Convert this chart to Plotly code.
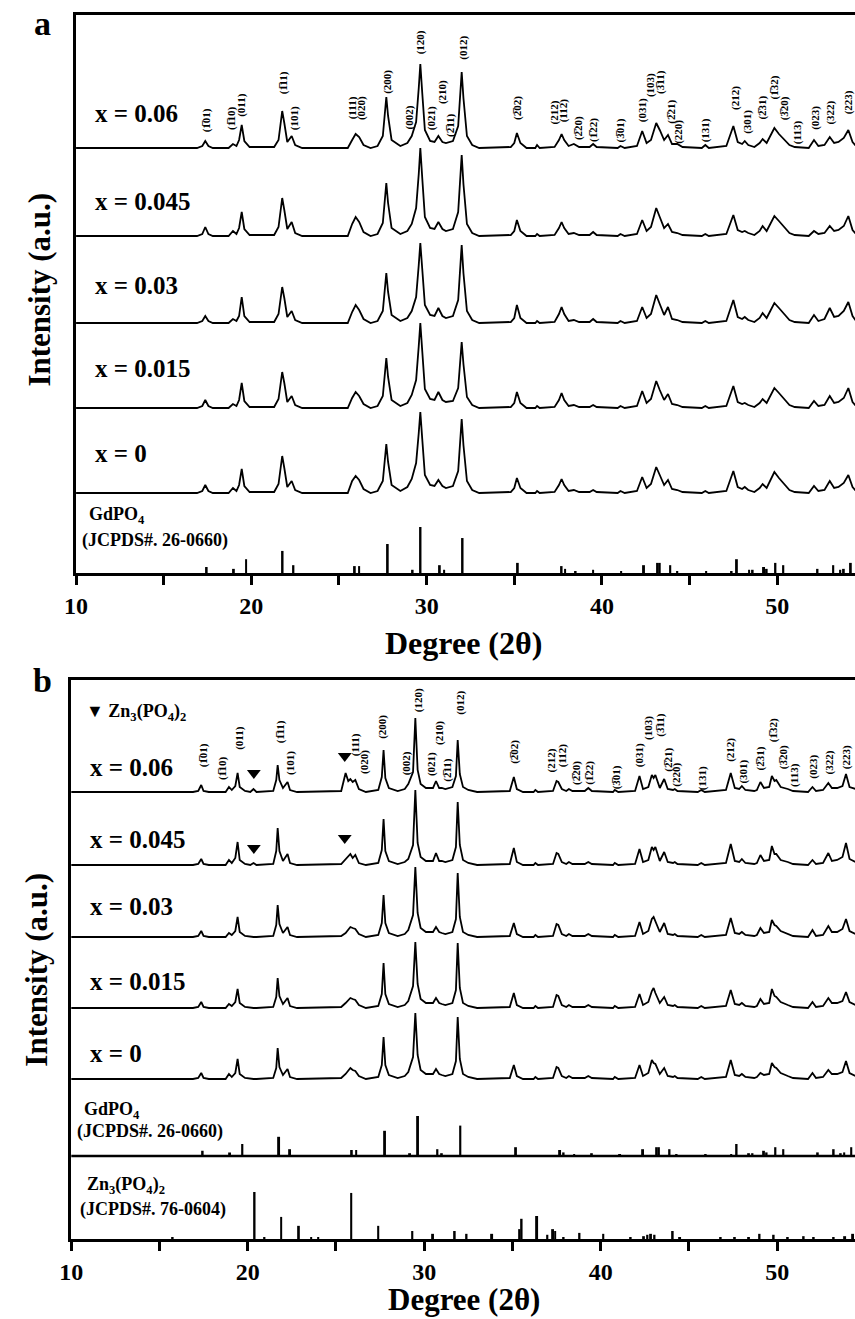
import plotly.graph_objects as go

W, H = 855, 1319
SERIF = "Liberation Serif"

# ---------------- panel a : GdPO4:Zn samples ----------------
A_ANG = [10.0, 16.9,
         17.2, 17.37, 17.55, 17.8,
         18.7, 18.95, 19.15, 19.3, 19.45, 19.6, 19.9,
         21.3, 21.55, 21.68, 21.76, 21.88, 22.05, 22.3, 22.5, 22.9,
         25.5, 25.75, 25.95, 26.15, 26.4, 26.8,
         27.2, 27.5, 27.62, 27.7, 27.8, 28.0, 28.5,
         28.9, 29.15, 29.4, 29.55, 29.64, 29.75, 29.9, 30.2, 30.45, 30.67, 30.9, 31.1,
         31.5, 31.8, 31.92, 32.0, 32.1, 32.3, 32.6, 33.0,
         34.8, 35.0, 35.15, 35.35, 35.7, 36.2, 36.3, 36.45,
         37.3, 37.55, 37.7, 37.85, 38.1, 38.4, 38.7, 39.3, 39.5, 39.7, 40.9, 41.06, 41.3,
         42.0, 42.3, 42.55, 42.8, 43.1, 43.3, 43.55, 43.77, 44.0, 44.3, 44.6,
         45.7, 45.9, 46.1, 47.1, 47.5, 47.75, 48.0, 48.15, 48.35, 48.7,
         49.0, 49.17, 49.4, 49.84, 50.1, 50.4, 50.7, 51.0,
         51.8, 52.1, 52.35, 52.7, 53.0, 53.25, 53.5, 53.8, 54.06, 54.3, 54.5]

A_006 = [0, 0,
         2, 7, 2, 0,
         0, 4, 2, 8, 23, 7, 1,
         1, 8, 30, 37, 25, 6, 12, 3, 0,
         0, 8, 14, 11, 3, 0,
         2, 12, 35, 51, 32, 8, 2,
         5, 12, 26, 60, 84, 55, 18, 7, 6, 12, 6, 5,
         7, 22, 55, 76, 50, 12, 3, 0,
         1, 5, 15, 5, 0, 0, 3, 0,
         1, 8, 14, 8, 2, 4, 1, 1, 4, 1, 0, 2, 0,
         2, 17, 5, 8, 25, 18, 8, 13, 4, 4, 1,
         0, 3, 0, 2, 22, 6, 4, 7, 3, 1,
         5, 9, 5, 20, 14, 8, 3, 1,
         0, 8, 2, 3, 11, 5, 6, 10, 18, 6, 2]

A_0045 = [0, 0,
          2, 9, 2, 0,
          0, 5, 2, 8, 24, 7, 1,
          1, 9, 31, 38, 26, 7, 14, 3, 0,
          0, 12, 19, 14, 4, 0,
          2, 13, 37, 53, 33, 8, 2,
          5, 12, 28, 62, 88, 58, 19, 8, 7, 14, 7, 5,
          7, 24, 58, 81, 52, 12, 3, 0,
          1, 5, 16, 5, 0, 0, 2, 0,
          1, 8, 14, 8, 2, 3, 1, 1, 4, 1, 0, 2, 0,
          2, 16, 5, 9, 28, 19, 8, 12, 4, 3, 1,
          0, 2, 0, 2, 21, 6, 4, 5, 3, 1,
          5, 10, 5, 20, 15, 9, 3, 1,
          0, 5, 2, 3, 10, 5, 6, 10, 20, 6, 2]

A_003 = [0, 0,
         2, 7, 2, 0,
         0, 4, 2, 7, 26, 7, 1,
         1, 9, 29, 36, 25, 6, 12, 3, 0,
         0, 11, 18, 13, 4, 0,
         2, 12, 35, 50, 31, 8, 2,
         5, 12, 26, 58, 80, 54, 18, 8, 7, 15, 7, 5,
         7, 23, 56, 78, 50, 12, 3, 0,
         1, 5, 18, 5, 0, 0, 2, 0,
         1, 9, 16, 9, 2, 3, 1, 1, 4, 1, 0, 2, 0,
         2, 16, 5, 9, 28, 19, 8, 16, 4, 3, 1,
         0, 2, 0, 2, 23, 6, 4, 6, 3, 1,
         5, 10, 5, 20, 15, 9, 3, 1,
         0, 8, 2, 4, 15, 6, 7, 12, 21, 7, 2]

A_0015 = [0, 0,
          2, 8, 2, 0,
          0, 4, 2, 8, 25, 7, 1,
          1, 9, 29, 36, 25, 6, 12, 3, 0,
          0, 10, 16, 12, 4, 0,
          2, 12, 35, 50, 31, 8, 2,
          5, 13, 28, 62, 85, 57, 19, 9, 8, 16, 8, 6,
          7, 20, 48, 66, 44, 11, 3, 0,
          1, 5, 16, 5, 0, 0, 2, 0,
          1, 8, 15, 8, 2, 3, 1, 1, 3, 1, 0, 2, 0,
          2, 17, 5, 9, 27, 18, 8, 14, 4, 3, 1,
          0, 2, 0, 2, 22, 6, 4, 5, 3, 1,
          5, 9, 5, 20, 15, 9, 3, 1,
          0, 7, 2, 3, 12, 5, 6, 10, 20, 6, 2]

A_000 = [0, 0,
         2, 8, 2, 0,
         0, 5, 2, 8, 24, 7, 1,
         1, 9, 30, 37, 25, 6, 12, 3, 0,
         0, 12, 17, 13, 4, 0,
         2, 12, 35, 49, 31, 8, 2,
         6, 14, 30, 60, 81, 54, 18, 8, 7, 13, 7, 5,
         7, 22, 54, 74, 48, 12, 3, 0,
         1, 5, 15, 5, 0, 0, 2, 0,
         1, 8, 14, 8, 2, 3, 1, 1, 3, 1, 0, 2, 0,
         2, 16, 5, 9, 26, 18, 8, 13, 4, 3, 1,
         0, 2, 0, 2, 22, 6, 4, 6, 3, 1,
         5, 9, 5, 21, 15, 9, 3, 1,
         0, 7, 2, 3, 12, 5, 6, 10, 18, 6, 2]

A_SAMPLES = ["x = 0.06", "x = 0.045", "x = 0.03", "x = 0.015", "x = 0"]

# ---------------- panel b ----------------
B_ANG = [10.0, 16.9,
         17.2, 17.37, 17.5, 17.8,
         18.75, 18.94, 19.1, 19.3, 19.43, 19.55, 19.85,
         20.15, 20.33, 20.5,
         21.45, 21.62, 21.7, 21.8, 22.0, 22.26, 22.4, 22.8,
         25.3, 25.55, 25.7, 25.82, 25.95, 26.1, 26.3, 26.7,
         27.4, 27.6, 27.7, 27.8, 28.0, 28.5,
         28.9, 29.1, 29.37, 29.5, 29.63, 29.8, 30.1, 30.3, 30.5, 30.67, 30.85, 31.0, 31.2,
         31.6, 31.8, 31.9, 32.02, 32.2, 32.5, 33.0,
         34.85, 35.08, 35.25, 35.6, 36.2, 36.3, 36.45,
         37.3, 37.5, 37.6, 37.8, 38.05, 38.2, 38.4, 39.1, 39.3, 39.5, 40.7, 40.8, 41.0,
         41.95, 42.2, 42.4, 42.7, 42.9, 43.0, 43.1, 43.35, 43.6, 43.8, 44.1, 44.2, 44.35,
         45.5, 45.7, 45.9, 47.1, 47.37, 47.6, 47.85, 48.0, 48.2, 48.7,
         48.85, 49.05, 49.25, 49.55, 49.7, 49.85, 49.95, 50.2, 50.6, 50.9,
         51.75, 52.0, 52.2, 52.6, 52.9, 53.1, 53.4, 53.7, 53.9, 54.1, 54.45]

B_006 = [0, 0,
         1, 7, 1, 0,
         0, 5, 2, 6, 19, 5, 1,
         0, 3, 0,
         1, 12, 27, 12, 4, 10, 2, 0,
         1, 19, 11, 13, 10, 12, 3, 0,
         2, 15, 42, 14, 4, 1,
         3, 8, 20, 74, 22, 8, 4, 4, 4, 11, 4, 4, 3,
         5, 16, 52, 18, 5, 2, 0,
         1, 15, 3, 0, 0, 2, 0,
         1, 11, 10, 3, 1, 3, 1, 1, 4, 1, 0, 2, 0,
         1, 16, 3, 5, 17, 14, 17, 4, 13, 3, 2, 3, 1,
         0, 2, 0, 2, 19, 4, 3, 6, 2, 1,
         2, 10, 4, 5, 16, 11, 12, 5, 3, 1,
         0, 5, 1, 2, 9, 4, 4, 6, 18, 5, 3]

B_0045 = [0, 0,
          1, 6, 1, 0,
          0, 5, 2, 7, 23, 5, 1,
          0, 2, 0,
          1, 14, 37, 14, 4, 11, 2, 0,
          1, 6, 8, 11, 7, 10, 2, 0,
          2, 15, 46, 14, 4, 1,
          3, 6, 20, 75, 22, 8, 4, 4, 4, 12, 4, 4, 3,
          5, 18, 63, 20, 5, 2, 0,
          1, 17, 3, 0, 0, 2, 0,
          1, 12, 11, 3, 1, 3, 1, 1, 3, 1, 0, 2, 0,
          1, 16, 3, 5, 18, 15, 18, 4, 13, 3, 2, 3, 1,
          0, 2, 0, 2, 21, 4, 3, 6, 2, 1,
          2, 10, 4, 5, 19, 11, 11, 5, 3, 1,
          0, 5, 1, 2, 12, 4, 5, 8, 22, 6, 3]

B_003 = [0, 0,
         1, 6, 1, 0,
         0, 4, 2, 6, 20, 5, 1,
         0, 0, 0,
         1, 12, 32, 13, 4, 10, 2, 0,
         1, 4, 8, 10, 9, 8, 3, 0,
         2, 14, 42, 14, 4, 1,
         3, 7, 22, 70, 24, 9, 5, 5, 5, 10, 5, 4, 3,
         5, 18, 64, 20, 5, 2, 0,
         1, 14, 3, 0, 0, 2, 0,
         1, 13, 12, 3, 1, 3, 1, 1, 3, 1, 0, 2, 0,
         1, 15, 3, 6, 18, 20, 16, 5, 14, 3, 2, 3, 1,
         0, 2, 0, 2, 19, 4, 3, 5, 2, 1,
         2, 9, 4, 5, 17, 12, 11, 6, 3, 1,
         0, 7, 1, 2, 11, 5, 5, 8, 18, 6, 3]

B_0015 = [0, 0,
          1, 6, 1, 0,
          0, 4, 2, 6, 19, 5, 1,
          0, 0, 0,
          1, 11, 30, 12, 4, 10, 2, 0,
          1, 5, 8, 10, 9, 8, 3, 0,
          2, 14, 45, 14, 4, 1,
          3, 7, 22, 66, 24, 9, 5, 5, 5, 10, 5, 4, 3,
          5, 18, 65, 20, 5, 2, 0,
          1, 15, 3, 0, 0, 2, 0,
          1, 13, 12, 3, 1, 3, 1, 1, 3, 1, 0, 2, 0,
          1, 14, 3, 6, 17, 20, 15, 5, 11, 3, 2, 3, 1,
          0, 2, 0, 2, 18, 4, 3, 5, 2, 1,
          2, 9, 4, 5, 19, 12, 11, 6, 3, 1,
          0, 6, 1, 2, 10, 5, 5, 7, 16, 6, 3]

B_000 = [0, 0,
         1, 6, 1, 0,
         0, 5, 2, 6, 20, 5, 1,
         0, 0, 0,
         1, 11, 31, 12, 4, 10, 2, 0,
         1, 5, 9, 11, 9, 8, 3, 0,
         2, 14, 42, 14, 4, 1,
         3, 7, 22, 66, 24, 9, 5, 5, 5, 10, 5, 4, 3,
         5, 18, 62, 20, 5, 2, 0,
         1, 14, 3, 0, 0, 2, 0,
         1, 12, 11, 3, 1, 3, 1, 1, 3, 1, 0, 2, 0,
         1, 14, 3, 6, 19, 16, 15, 5, 11, 3, 2, 3, 1,
         0, 2, 0, 2, 19, 4, 3, 5, 2, 1,
         2, 6, 4, 5, 16, 12, 11, 6, 3, 1,
         0, 6, 1, 2, 9, 5, 5, 7, 18, 6, 3]

# Zn3(PO4)2 impurity markers (panel b)
TRI_X = [20.35, 25.5, 20.35, 25.5]
TRI_Y = [466, 483, 391, 401]

# ---------------- reference cards ----------------
GD_POS = [17.45, 19.0, 19.7, 21.78, 22.4, 25.9, 26.15, 27.78, 29.2, 29.65, 30.75, 31.0,
          32.05, 35.2, 37.7, 37.9, 38.5, 39.5, 41.1, 42.4, 43.15, 43.3, 43.9, 44.3, 45.95,
          47.4, 47.7, 48.4, 48.6, 49.25, 49.4, 49.9, 50.35, 52.3, 53.2, 53.6, 53.8, 54.2]
GD_INT = [13, 9, 30, 48, 17, 15, 15, 63, 7, 100, 17, 7,
          76, 22, 15, 9, 4, 7, 4, 17, 22, 22, 17, 4, 4,
          4, 30, 7, 7, 13, 9, 22, 17, 9, 17, 7, 9, 22]

ZN_POS = [15.75, 20.39, 20.95, 21.9, 22.9, 23.6, 24.0, 25.87, 27.4, 29.33, 30.5, 31.73,
          32.4, 33.85, 35.4, 35.52, 36.4, 36.98, 37.3, 37.42, 37.9, 38.8, 40.15, 41.7,
          42.45, 42.65, 42.85, 43.05, 44.08, 44.5, 46.8, 47.6, 48.4, 49.0, 49.8, 50.6,
          51.5, 52.07, 53.2, 53.85, 54.3]
ZN_INT = [4, 100, 4, 47, 28, 4, 4, 98, 28, 17, 11, 17,
          11, 11, 21, 43, 49, 9, 21, 17, 4, 13, 11, 4,
          6, 9, 11, 9, 17, 4, 4, 4, 4, 11, 9, 4,
          6, 4, 4, 6, 11]

# ---------------- Miller index labels ----------------
def ob(d):
    return d + "\u0305"

HKL = ["(" + ob("1") + "01)", "(" + ob("1") + "10)", "(011)", "(" + ob("1") + "11)", "(101)",
       "(111)", "(020)", "(200)", "(002)", "(120)", "(021)", "(210)", "(" + ob("2") + "11)",
       "(012)", "(" + ob("2") + "02)", "(212)", "(112)", "(" + ob("2") + "20)",
       "(" + ob("1") + "22)", "(" + ob("3") + "01)", "(031)", "(103)", "(" + ob("3") + "11)",
       "(" + ob("2") + "21)", "(220)", "(131)", "(212)", "(301)", "(" + ob("2") + "31)",
       "(" + ob("1") + "32)", "(" + ob("3") + "20)", "(113)", "(023)", "(322)", "(223)"]

HKL_A_X = [17.43, 18.84, 19.40, 21.82, 22.44, 25.76, 26.26, 27.73, 29.02, 29.64, 30.26, 30.88,
           31.33, 32.06, 35.15, 37.24, 37.80, 38.64, 39.49, 41.06, 42.30, 42.75, 43.31, 43.93,
           44.33, 45.90, 47.59, 48.27, 49.11, 49.84, 50.41, 51.14, 52.15, 52.99, 54.06]
HKL_A_Y = [453, 455, 468, 490, 455, 465, 465, 491, 456, 531, 455, 481, 448, 525, 465, 460,
           463, 445, 443, 443, 463, 488, 491, 461, 441, 443, 475, 451, 465, 486, 465, 441,
           455, 460, 471]

HKL_B_X = [17.49, 18.55, 19.50, 21.84, 22.40, 26.09, 26.59, 27.60, 28.99, 29.66, 30.39, 30.84,
           31.28, 32.01, 35.08, 37.21, 37.82, 38.60, 39.33, 40.89, 42.18, 42.68, 43.35, 43.80,
           44.25, 45.75, 47.32, 48.04, 49.05, 49.78, 50.34, 50.95, 52.01, 52.91, 53.91]
HKL_B_Y = [484, 471, 501, 507, 476, 494, 477, 512, 476, 539, 475, 506, 469, 536, 487, 479,
           484, 466, 466, 462, 484, 511, 514, 479, 464, 461, 489, 467, 481, 509, 482, 464,
           472, 476, 482]

# ---------------- layout helpers ----------------
A_OFF = [425, 337, 250, 165, 80]
B_OFF = [447, 374, 302, 231, 160]
A_LBL_Y = [113, 201, 285, 368, 453]
B_LBL_Y = [767, 839, 906, 981, 1053]
A_SCALE, B_GD_SCALE, B_GD_BASE, B_ZN_SCALE = 0.46, 0.40, 83, 0.47

fig = go.Figure()

for arr in (A_006, A_0045, A_003, A_0015, A_000):
    assert len(arr) == len(A_ANG)
for arr in (B_006, B_0045, B_003, B_0015, B_000):
    assert len(arr) == len(B_ANG)

LINE = dict(color="black", width=1.8)
for arr, off in zip((A_006, A_0045, A_003, A_0015, A_000), A_OFF):
    fig.add_trace(go.Scatter(x=A_ANG, y=[off + v for v in arr], mode="lines", line=LINE,
                             xaxis="x", yaxis="y", hoverinfo="skip"))
for arr, off in zip((B_006, B_0045, B_003, B_0015, B_000), B_OFF):
    fig.add_trace(go.Scatter(x=B_ANG, y=[off + v for v in arr], mode="lines", line=LINE,
                             xaxis="x2", yaxis="y2", hoverinfo="skip"))

fig.add_trace(go.Bar(x=GD_POS, y=[v * A_SCALE for v in GD_INT], width=0.11,
                     marker=dict(color="black", line=dict(width=0)), xaxis="x", yaxis="y"))
fig.add_trace(go.Bar(x=GD_POS, y=[v * B_GD_SCALE for v in GD_INT], base=B_GD_BASE, width=0.11,
                     marker=dict(color="black", line=dict(width=0)), xaxis="x2", yaxis="y2"))
fig.add_trace(go.Bar(x=ZN_POS, y=[v * B_ZN_SCALE for v in ZN_INT], width=0.11,
                     marker=dict(color="black", line=dict(width=0)), xaxis="x2", yaxis="y2"))

fig.add_trace(go.Scatter(x=TRI_X, y=TRI_Y, mode="markers",
                         marker=dict(symbol="triangle-down", size=12, color="black"),
                         xaxis="x2", yaxis="y2", hoverinfo="skip"))

# separator line (GdPO4 card baseline in panel b)
fig.add_shape(type="line", xref="x2", yref="y2", x0=10, x1=54.5, y0=B_GD_BASE, y1=B_GD_BASE,
              line=dict(color="black", width=2.5))


def P(x, y):
    return x / W, 1 - y / H


def bold_font(size):
    return dict(family=SERIF, size=size, color="black", weight="bold")


anns = []


def text_px(t, x, y, size, xanchor="center", angle=0):
    px, py = P(x, y)
    anns.append(dict(text=t, x=px, y=py, xref="paper", yref="paper", xanchor=xanchor,
                     yanchor="middle", showarrow=False, font=bold_font(size), textangle=angle))


text_px("a", 31, 24, 34)
text_px("b", 31, 680, 34)
text_px("Intensity (a.u.)", 27, 290, 31, angle=-90)
text_px("Intensity (a.u.)", 24, 970, 31, angle=-90)
text_px("Degree (2\u03b8)", 458, 643, 32)
text_px("Degree (2\u03b8)", 458, 1299, 31)

for t, y in zip(A_SAMPLES, A_LBL_Y):
    text_px(t, 82, y, 25, xanchor="left")
for t, y in zip(A_SAMPLES, B_LBL_Y):
    text_px(t, 77, y, 25, xanchor="left")

text_px("GdPO<sub>4</sub>", 76, 515, 18, xanchor="left")
text_px("(JCPDS#. 26-0660)", 69, 541, 18, xanchor="left")
text_px("GdPO<sub>4</sub>", 71, 1110, 18, xanchor="left")
text_px("(JCPDS#. 26-0660)", 64, 1131, 18, xanchor="left")
text_px("Zn<sub>3</sub>(PO<sub>4</sub>)<sub>2</sub>", 74, 1185, 18, xanchor="left")
text_px("(JCPDS#. 76-0604)", 67, 1209, 18, xanchor="left")
text_px("\u25bc Zn<sub>3</sub>(PO<sub>4</sub>)<sub>2</sub>", 73, 712, 18, xanchor="left")

for t, x, y in zip(HKL, HKL_A_X, HKL_A_Y):
    anns.append(dict(text=t, x=x, y=y, xref="x", yref="y", showarrow=False, textangle=-90,
                     font=bold_font(11), xanchor="center", yanchor="middle"))
for t, x, y in zip(HKL, HKL_B_X, HKL_B_Y):
    anns.append(dict(text=t, x=x, y=y, xref="x2", yref="y2", showarrow=False, textangle=-90,
                     font=bold_font(11), xanchor="center", yanchor="middle"))

XT = dict(showline=True, linewidth=2.5, linecolor="black", mirror=True, ticks="outside",
          ticklen=9, tickwidth=2.5, tickcolor="black", showgrid=False, zeroline=False,
          tick0=10, dtick=10,
          minor=dict(tick0=10, dtick=5, ticks="outside", ticklen=9, tickwidth=2.5,
                     tickcolor="black", showgrid=False),
          tickfont=bold_font(24))
YT = dict(showline=True, linewidth=2.5, linecolor="black", mirror=False, ticks="",
          showticklabels=False, showgrid=False, zeroline=False)

fig.update_layout(
    width=W, height=H, margin=dict(l=0, r=0, t=0, b=0),
    paper_bgcolor="white", plot_bgcolor="white", showlegend=False, barmode="overlay",
    xaxis=dict(domain=[65 / W, 1], range=[10, 54.44], anchor="y", **XT),
    yaxis=dict(domain=[1 - 573 / H, 1 - 15 / H], range=[0, 558], anchor="x", **YT),
    xaxis2=dict(domain=[60 / W, 1], range=[10, 54.41], anchor="y2", **XT),
    yaxis2=dict(domain=[1 - 1239 / H, 1 - 680 / H], range=[0, 559], anchor="x2", **YT),
    annotations=anns,
)

fig.write_html("out.html")
